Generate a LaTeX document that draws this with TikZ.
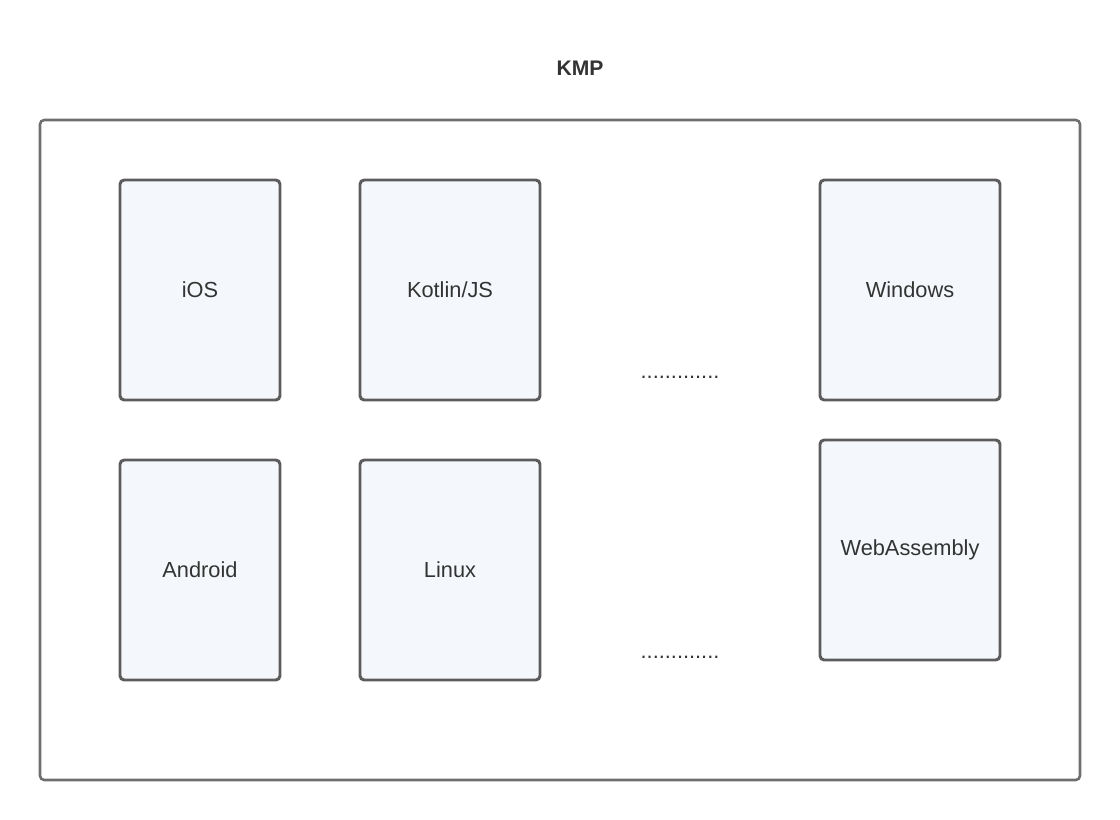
\documentclass[tikz,border=0pt]{standalone}
\usepackage{fontspec}
\setmainfont{Liberation Sans}
\usepackage{tikz}
\usetikzlibrary{positioning}
\definecolor{boxline}{HTML}{5C5C5C}
\definecolor{frameline}{HTML}{6E6E6E}
\definecolor{boxfill}{HTML}{F4F8FC}
\definecolor{textcol}{HTML}{333333}
\tikzset{%
  platform/.style={rectangle,rounded corners=3pt,draw=boxline,line width=2.1pt,
    fill=boxfill,text=textcol,minimum width=4.5cm,minimum height=5.5cm,
    inner sep=0pt,outer sep=0pt,font=\fontsize{15.5}{18}\selectfont},
  frame/.style={rectangle,rounded corners=3pt,draw=frameline,line width=1.8pt,
    minimum width=26cm,minimum height=16.5cm,inner sep=0pt},
  more/.style={text=textcol,inner sep=0pt,anchor=base,font=\fontsize{15.5}{18}\selectfont},
  heading/.style={text=textcol,font=\fontsize{15}{18}\selectfont\bfseries}
}
\begin{document}
\begin{tikzpicture}[node distance=1.5cm]
    \useasboundingbox (0,0) rectangle (28,-20.5);
    \node [frame] (kmp) at (14,-11.25) {};
    \node [heading] (title) at (14.5,-1.7) {KMP};

    \node [platform, minimum width=4cm] (ios) at (5,-7.25) {iOS};
    \node [platform] (kotlinjs) [right=2cm of ios] {Kotlin/JS};
    \node [platform] (windows) [right=7cm of kotlinjs] {Windows};

    \node [platform, minimum width=4cm] (android) [below=of ios] {Android};
    \node [platform] (linux) [below=of kotlinjs] {Linux};
    \node [platform] (wasm) [below=1cm of windows] {WebAssembly};

    \node [more] (dotsA) at (17,-9.45) {.............};
    \node [more] (dotsB) at (17,-16.45) {.............};
\end{tikzpicture}
\end{document}
